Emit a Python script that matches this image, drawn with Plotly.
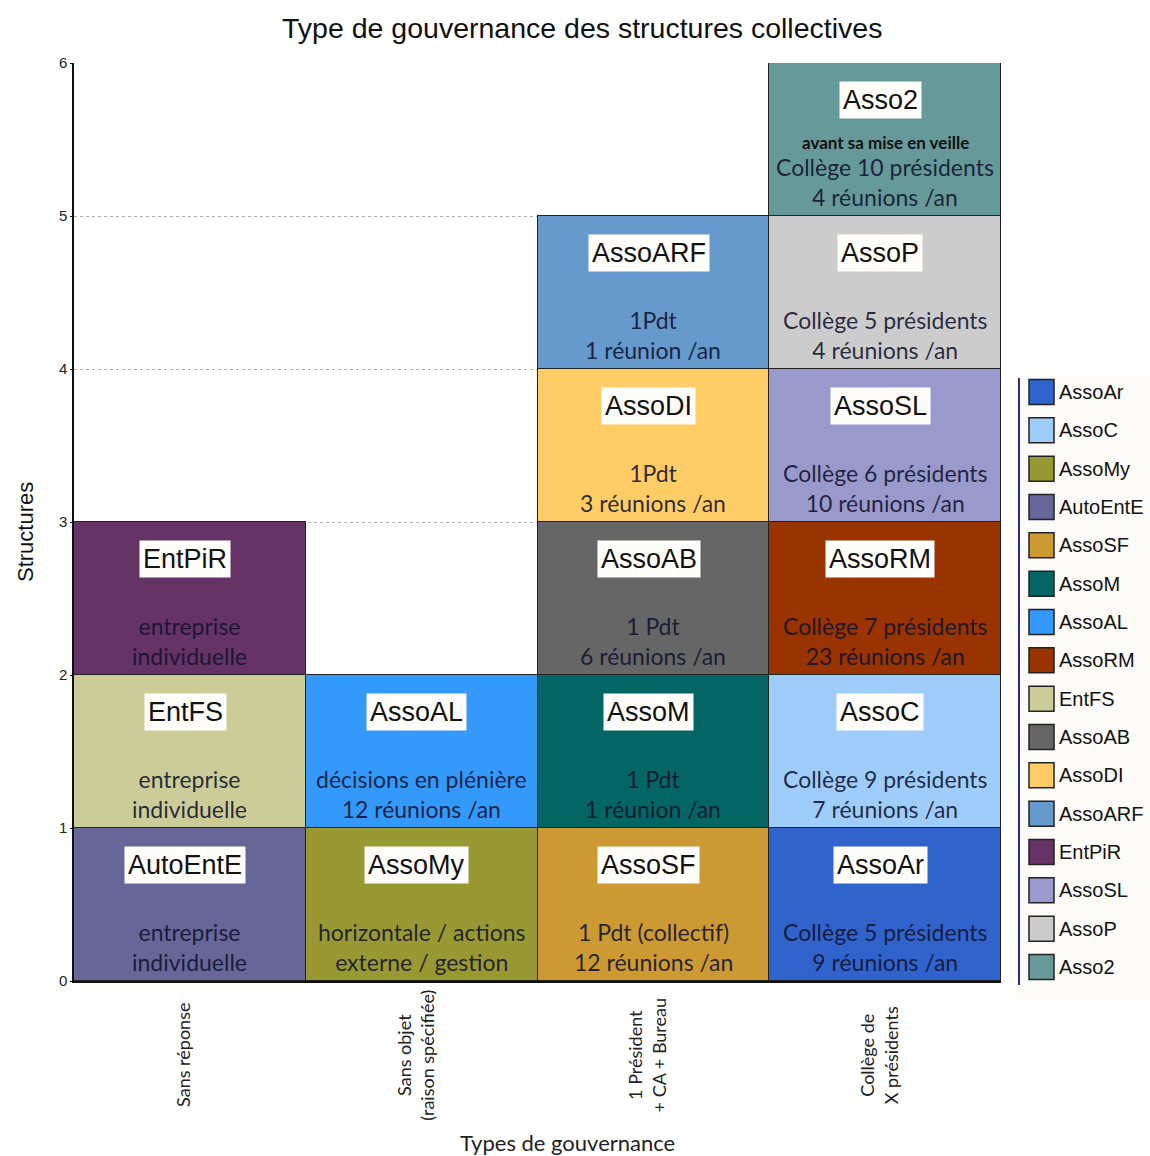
import plotly.graph_objects as go

# --- data -------------------------------------------------------------------
categories = [
    "Sans réponse",
    "Sans objet (raison spécifiée)",
    "1 Président + CA + Bureau",
    "Collège de X présidents",
]
category_labels = [
    "Sans réponse",
    "Sans objet<br>(raison spécifiée)",
    "1 Président<br>+ CA + Bureau",
    "Collège de<br>X présidents",
]

# structures listed bottom-to-top within each governance type
structures = [
    "AutoEntE", "EntFS", "EntPiR",
    "AssoMy", "AssoAL",
    "AssoSF", "AssoM", "AssoAB", "AssoDI", "AssoARF",
    "AssoAr", "AssoC", "AssoRM", "AssoSL", "AssoP", "Asso2",
]
structure_category = [
    0, 0, 0,
    1, 1,
    2, 2, 2, 2, 2,
    3, 3, 3, 3, 3, 3,
]
structure_count = [1] * 16
descriptions = [
    "entreprise<br>individuelle", "entreprise<br>individuelle", "entreprise<br>individuelle",
    "horizontale / actions<br>externe / gestion", "décisions en plénière<br>12 réunions /an",
    "1 Pdt (collectif)<br>12 réunions /an", "1 Pdt<br>1 réunion /an", "1 Pdt<br>6 réunions /an",
    "1Pdt<br>3 réunions /an", "1Pdt<br>1 réunion /an",
    "Collège 5 présidents<br>9 réunions /an", "Collège 9 présidents<br>7 réunions /an",
    "Collège 7 présidents<br>23 réunions /an", "Collège 6 présidents<br>10 réunions /an",
    "Collège 5 présidents<br>4 réunions /an", "Collège 10 présidents<br>4 réunions /an",
]
notes = {"Asso2": "avant sa mise en veille"}

legend_order = [
    "AssoAr", "AssoC", "AssoMy", "AutoEntE", "AssoSF", "AssoM", "AssoAL", "AssoRM",
    "EntFS", "AssoAB", "AssoDI", "AssoARF", "EntPiR", "AssoSL", "AssoP", "Asso2",
]

y_ticks = [0, 1, 2, 3, 4, 5, 6]

# --- styling ----------------------------------------------------------------
colors = {
    "AssoAr": "#3063cc", "AssoC": "#9fcdfb", "AssoMy": "#999933", "AutoEntE": "#666699",
    "AssoSF": "#cc9933", "AssoM": "#036564", "AssoAL": "#3399fb", "AssoRM": "#993300",
    "EntFS": "#cccc99", "AssoAB": "#666666", "AssoDI": "#ffcc66", "AssoARF": "#6699cc",
    "EntPiR": "#663366", "AssoSL": "#9999cc", "AssoP": "#cccccc", "Asso2": "#669999",
}

W, H = 1150, 1156
L, R, T, B = 74, 1001, 63, 981  # plot area in pixels


def px_x(px):
    return (px - L) / (R - L)


def px_y(py):
    return (B - py) / (B - T)


NAME_FONT = dict(family="Liberation Sans, Arial", size=27, color="#111111")
DESC_FONT = dict(family="Lato", size=23, color="rgba(15,18,45,0.88)")

fig = go.Figure()

# stacked bars, one trace per structure
for name, cat, val in zip(structures, structure_category, structure_count):
    fig.add_trace(go.Bar(
        x=[cat], y=[val], name=name, width=1,
        marker=dict(color=colors[name], line=dict(color="#222222", width=1.5)),
        showlegend=False, hoverinfo="name",
    ))

# labels inside each segment
stack_base = [0] * len(categories)
annotations = []
for name, cat, val, desc in zip(structures, structure_category, structure_count, descriptions):
    base = stack_base[cat]
    annotations.append(dict(
        x=cat - 0.02, y=base + 0.76 * val, xref="x", yref="y", text=name, showarrow=False,
        xanchor="center", yanchor="middle",
        font=NAME_FONT, bgcolor="#fffdfa", borderpad=3,
    ))
    annotations.append(dict(
        x=cat, y=base + 0.22 * val, xref="x", yref="y", text=desc, showarrow=False,
        xanchor="center", yanchor="middle",
        font=DESC_FONT, align="center",
    ))
    if name in notes:
        annotations.append(dict(
            x=cat, y=base + 0.48 * val, xref="x", yref="y", text="<b>" + notes[name] + "</b>",
            showarrow=False, xanchor="center", yanchor="middle",
            font=dict(family="Lato", size=17, color="#111111"),
        ))
    stack_base[cat] += val

# rotated category labels under the axis
for i, lab in enumerate(category_labels):
    annotations.append(dict(
        x=i - 0.03, y=px_y(1055), xref="x", yref="paper", text=lab, textangle=-90,
        xanchor="center", yanchor="middle",
        showarrow=False, font=dict(family="Lato", size=18, color="#222222"), align="center",
    ))

# axis titles and chart title
annotations.append(dict(
    x=px_x(567), y=px_y(1142), xref="paper", yref="paper", text="Types de gouvernance",
    xanchor="center", yanchor="middle",
    showarrow=False, font=dict(family="Lato", size=22, color="#222222"),
))
annotations.append(dict(
    x=px_x(25), y=px_y(532), xref="paper", yref="paper", text="Structures", textangle=-90,
    xanchor="center", yanchor="middle",
    showarrow=False, font=dict(family="Liberation Sans, Arial", size=22, color="#111111"),
))
annotations.append(dict(
    x=px_x(582), y=px_y(28), xref="paper", yref="paper",
    text="Type de gouvernance des structures collectives",
    xanchor="center", yanchor="middle",
    showarrow=False, font=dict(family="Liberation Sans, Arial", size=28.5, color="#111111"),
))

# legend panel drawn at the right of the plot
shapes = [
    dict(type="rect", xref="paper", yref="paper", x0=px_x(1016), x1=px_x(1150),
         y0=px_y(1000), y1=px_y(376), fillcolor="#fdfbf8", line=dict(width=0), layer="below"),
    dict(type="line", xref="paper", yref="paper", x0=px_x(1019), x1=px_x(1019),
         y0=px_y(985), y1=px_y(378), line=dict(color="#2a2a8a", width=2)),
]
step = (967 - 392) / (len(legend_order) - 1)
for k, name in enumerate(legend_order):
    cy = 392 + k * step
    shapes.append(dict(
        type="rect", xref="paper", yref="paper",
        x0=px_x(1029), x1=px_x(1054), y0=px_y(cy + 12.5), y1=px_y(cy - 12.5),
        fillcolor=colors[name], line=dict(color="#222222", width=1.5),
    ))
    annotations.append(dict(
        x=px_x(1057), y=px_y(cy), xref="paper", yref="paper", text=name, showarrow=False,
        xanchor="left", yanchor="middle",
        font=dict(family="Liberation Sans, Arial", size=20, color="#111111"),
    ))

fig.update_layout(
    width=W, height=H, autosize=False,
    margin=dict(l=L, r=W - R, t=T, b=H - B),
    paper_bgcolor="white", plot_bgcolor="white",
    barmode="stack", bargap=0,
    annotations=annotations, shapes=shapes,
    xaxis=dict(
        range=[-0.5, 3.5], tickvals=list(range(len(categories))), showticklabels=False,
        showgrid=False, zeroline=False, showline=True, linecolor="#111111", linewidth=1.5,
        fixedrange=True,
    ),
    yaxis=dict(
        range=[0, 6], tickvals=y_ticks, ticks="outside", ticklen=2, tickcolor="#111111",
        tickfont=dict(family="Liberation Sans, Arial", size=15, color="#222222"),
        showgrid=True, gridcolor="#b0b0b0", gridwidth=1, griddash="dot",
        zeroline=False, showline=True, linecolor="#111111", linewidth=1.5, fixedrange=True,
    ),
)

fig.write_html("out.html")
